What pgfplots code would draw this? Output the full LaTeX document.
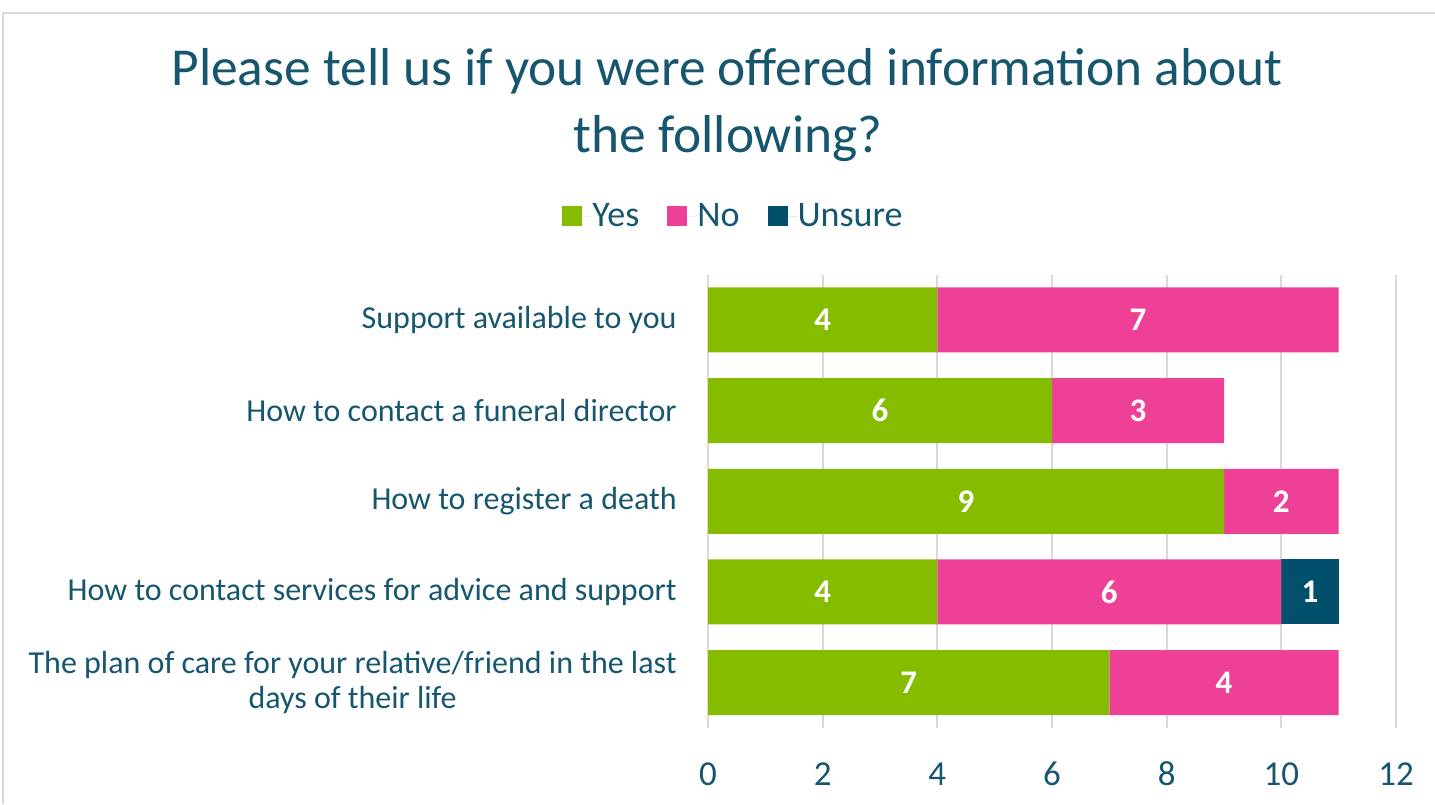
\documentclass[border=0pt]{standalone}
\usepackage{fontspec}
\setmainfont{Carlito}
\usepackage{pgfplots}
\usepackage{pgfplotstable}
\pgfplotsset{compat=1.18}
\definecolor{cgreen}{HTML}{86BC00}
\definecolor{cpink}{HTML}{EF4098}
\definecolor{cnavy}{HTML}{00506B}
\definecolor{ctext}{HTML}{16566E}
\definecolor{cgrid}{HTML}{D9D9D9}
\pgfplotstableread{
pos yes no unsure
0 7 4 0
1 4 6 1
2 9 2 0
3 6 3 0
4 4 7 0
}\datatable
\begin{document}
\begin{tikzpicture}
\useasboundingbox (0,0) rectangle (717.5pt,-402pt);
\draw[cgrid, line width=1pt] (1.5pt,-402pt) -- (1.5pt,-6.5pt) -- (717.5pt,-6.5pt);
\node[anchor=base, text=ctext, font=\fontsize{26.7}{32}\selectfont, inner sep=0pt] at (363.5pt,-42.5pt) {Please tell us if you were offered information about};
\node[anchor=base, text=ctext, font=\fontsize{26.7}{32}\selectfont, inner sep=0pt] at (364pt,-76pt) {the following?};
\begin{axis}[
  at={(354pt,-364pt)}, anchor=south west,
  scale only axis, width=344pt, height=226.75pt,
  xbar stacked, bar width=32.5pt,
  xmin=0, xmax=12, ymin=-0.5, ymax=4.5,
  xtick={0,2,...,12}, ytick={0,1,2,3,4},
  yticklabels={{The plan of care for your relative/friend in the last\\days of their life},{How to contact services for advice and support},{How to register a death},{How to contact a funeral director},{Support available to you}},
  yticklabel style={align=center, anchor=east, inner sep=0pt, xshift=-15.5pt, font=\fontsize{16}{17.5}\selectfont, text=ctext},
  xticklabel style={anchor=base, inner sep=0pt, yshift=-28.5pt, font=\fontsize{17.5}{20}\selectfont, text=ctext},
  /pgf/number format/assume math mode=true,
  major tick length=0pt,
  axis line style={draw=none},
  xmajorgrids, grid style={cgrid, line width=1pt},
  point meta=explicit,
  nodes near coords={\pgfmathfloatifflags{\pgfplotspointmeta}{0}{}{\pgfmathprintnumber{\pgfplotspointmeta}}},
  every node near coord/.append style={
    anchor=center, inner sep=0pt, text=white, font=\fontsize{16.5}{19}\selectfont\bfseries},
  legend style={at={(axis description cs:0.0356,1.128)}, anchor=center, draw=none, fill=none,
    legend columns=-1, font=\fontsize{18}{20}\selectfont, text=ctext,
    nodes={inner sep=0pt},
    /tikz/every even column/.append style={column sep=14pt}},
  legend image code/.code={\path (0pt,0pt) -- (15pt,0pt); \fill[#1] (0pt,-5pt) rectangle (10pt,5pt);},
]
\addplot[fill=cgreen, draw=none] table[x=yes, y=pos, meta=yes]{\datatable};
\addplot[fill=cpink, draw=none] table[x=no, y=pos, meta=no]{\datatable};
\addplot[fill=cnavy, draw=none] table[x=unsure, y=pos, meta=unsure]{\datatable};
\legend{Yes, No, Unsure}
\end{axis}
\end{tikzpicture}
\end{document}
